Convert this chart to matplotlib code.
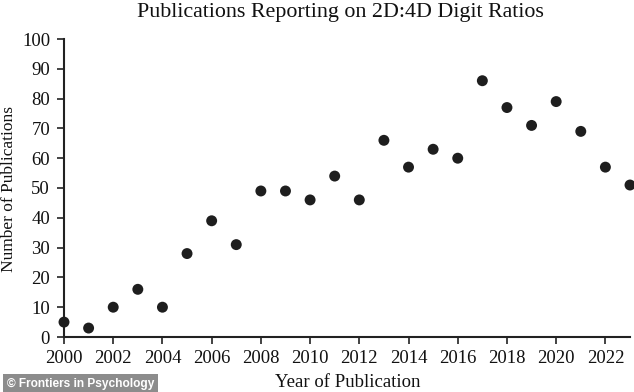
import matplotlib
matplotlib.use("Agg")
import matplotlib.pyplot as plt

years = list(range(2000, 2024))
publications = [5, 3, 10, 16, 10, 28, 39, 31, 49, 49, 46, 54, 46, 66, 57, 63, 60, 86, 77, 71, 79, 69, 57, 51]
xticks = list(range(2000, 2024, 2))
yticks = list(range(0, 101, 10))

plt.rcParams['font.family'] = ['Liberation Serif', 'DejaVu Serif']

W, H = 634, 392
fig = plt.figure(figsize=(W / 100, H / 100), dpi=100)
ax = fig.add_axes([64 / W, 55 / H, 566 / W, 298 / H])

ax.scatter(years, publications, s=62, color='#1e1e1e', zorder=3, clip_on=False, edgecolors='none')

ax.set_xlim(2000, 2023)
ax.set_ylim(0, 100)
ax.set_xticks(xticks)
ax.set_yticks(yticks)
ax.tick_params(axis='both', labelsize=13.5, direction='out', length=5, width=1.2,
               color='#222222', labelcolor='#111111')
ax.tick_params(axis='x', pad=4.5)
ax.tick_params(axis='y', pad=5)
for s in ['top', 'right']:
    ax.spines[s].set_visible(False)
for s in ['left', 'bottom']:
    ax.spines[s].set_linewidth(1.5)
    ax.spines[s].set_color('#222222')

fig.text(340 / W, 1 - 13 / H, 'Publications Reporting on 2D:4D Digit Ratios', fontsize=15.8,
         color='#111111', ha='center', va='center')

fig.text(348 / W, 1 - 391 / H, 'Year of Publication', fontsize=13.5, color='#111111',
         ha='center', va='bottom')
fig.text(9 / W, 1 - 189 / H, 'Number of Publications', fontsize=12.5, color='#111111',
         ha='center', va='center', rotation=90)

fig.text(7 / W, 1 - 384 / H, '\u00a9 Frontiers in Psychology', family=['Liberation Sans', 'DejaVu Sans'],
         fontweight='bold', fontsize=8.6, color='white', va='center', ha='left',
         bbox=dict(boxstyle='square,pad=0.3', facecolor='#8c8c8c', edgecolor='none'))

fig.savefig('out.png', dpi=100)
